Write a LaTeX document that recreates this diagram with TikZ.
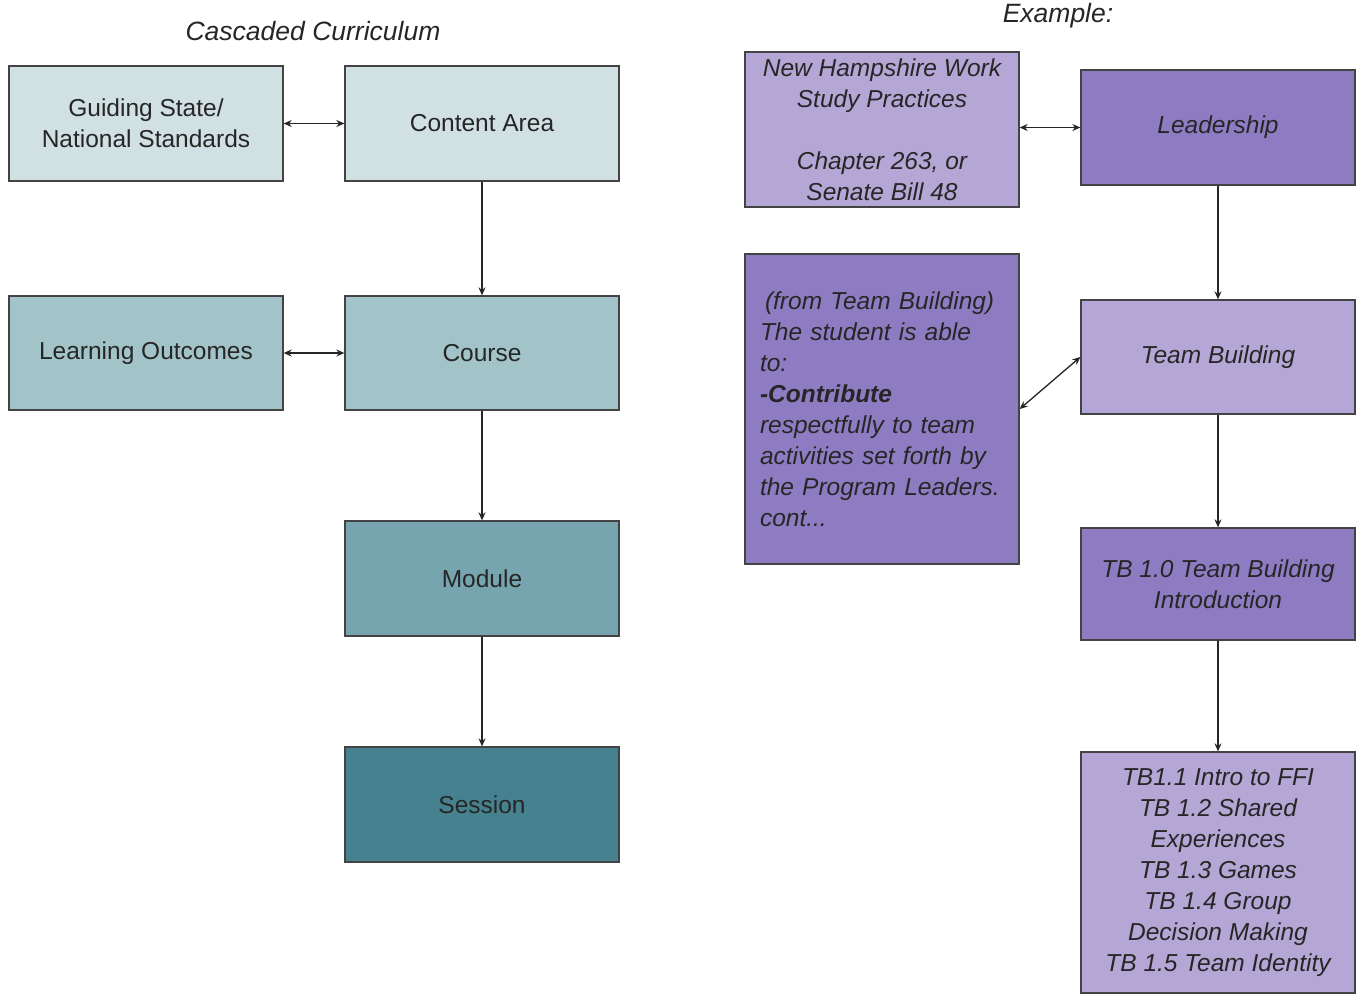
\documentclass[tikz,border=0pt]{standalone}
\usepackage{fontspec}
\setmainfont{Liberation Sans}
\usetikzlibrary{arrows.meta}
\definecolor{cyanA}{HTML}{D0E0E3}
\definecolor{cyanB}{HTML}{A2C4C9}
\definecolor{cyanC}{HTML}{76A5AF}
\definecolor{cyanD}{HTML}{45818E}
\definecolor{purpA}{HTML}{B4A7D6}
\definecolor{purpB}{HTML}{8E7CC3}
\definecolor{edgegray}{HTML}{434343}
\tikzset{
  boxnode/.style={draw=edgegray, line width=1.3pt, minimum width=274pt, minimum height=115pt, inner sep=0pt, align=center, font=\fontsize{24.5}{31}\selectfont, text=black!85},
  itbox/.style={boxnode, font=\fontsize{24.5}{31}\selectfont\itshape},
  conn/.style={line width=1.3pt, black!85, -{Stealth[length=8pt,width=7pt]}},
  dconn/.style={line width=1.3pt, black!85, {Stealth[length=8pt,width=7pt]}-{Stealth[length=8pt,width=7pt]}},
  titletext/.style={font=\fontsize{26.5}{30}\selectfont\itshape, text=black!85}
}
\begin{document}
\begin{tikzpicture}[x=1pt,y=-1pt]
\useasboundingbox (0,0) rectangle (1363,994);
\fill[white] (0,0) rectangle (1363,994);
% titles
\node[titletext] (t1) at (313,31) {Cascaded Curriculum};
\node[titletext] (t2) at (1058,16) {Example:};
% left column
\node[boxnode, fill=cyanA] (guide) at (146,123.5) {Guiding State/\\National Standards};
\node[boxnode, fill=cyanA] (content) at (482,123.5) {Content Area};
\node[boxnode, fill=cyanB, minimum height=114pt] (learn) at (146,353) {Learning Outcomes};
\node[boxnode, fill=cyanB, minimum height=114pt] (course) at (482,353) {Course};
\node[boxnode, fill=cyanC] (module) at (482,578.5) {Module};
\node[boxnode, fill=cyanD] (session) at (482,804.5) {Session};
% right column
\node[itbox, fill=purpA, minimum height=155pt] (nh) at (882,129.5) {New Hampshire Work\\Study Practices\\[31pt]Chapter 263, or\\Senate Bill 48};
\node[itbox, fill=purpB] (lead) at (1218,127.5) {Leadership};
\node[itbox, fill=purpA, minimum height=114pt] (team) at (1218,357) {Team Building};
\node[itbox, fill=purpB, minimum height=310pt, text width=244pt, align=left] (from) at (882,409) {\hspace*{5pt}(from Team Building)\\The student is able\\to:\\\textbf{-Contribute}\\respectfully to team\\activities set forth by\\the Program Leaders.\\cont...};
\node[itbox, fill=purpB, minimum height=112pt] (tb10) at (1218,584) {TB 1.0 Team Building\\Introduction};
\node[itbox, fill=purpA, minimum height=241pt] (tblist) at (1218,872.5) {TB1.1 Intro to FFI\\TB 1.2 Shared\\Experiences\\TB 1.3 Games\\TB 1.4 Group\\Decision Making\\TB 1.5 Team Identity};
% connectors left
\draw[dconn] (guide.east) -- (content.west);
\draw[dconn] (learn.east) -- (course.west);
\draw[conn] (content.south) -- (course.north);
\draw[conn] (course.south) -- (module.north);
\draw[conn] (module.south) -- (session.north);
% connectors right
\draw[dconn] (lead.west -| nh.east) -- (lead.west);
\draw[dconn] (from.east) -- (team.west);
\draw[conn] (lead.south) -- (team.north);
\draw[conn] (team.south) -- (tb10.north);
\draw[conn] (tb10.south) -- (tblist.north);
\end{tikzpicture}
\end{document}
